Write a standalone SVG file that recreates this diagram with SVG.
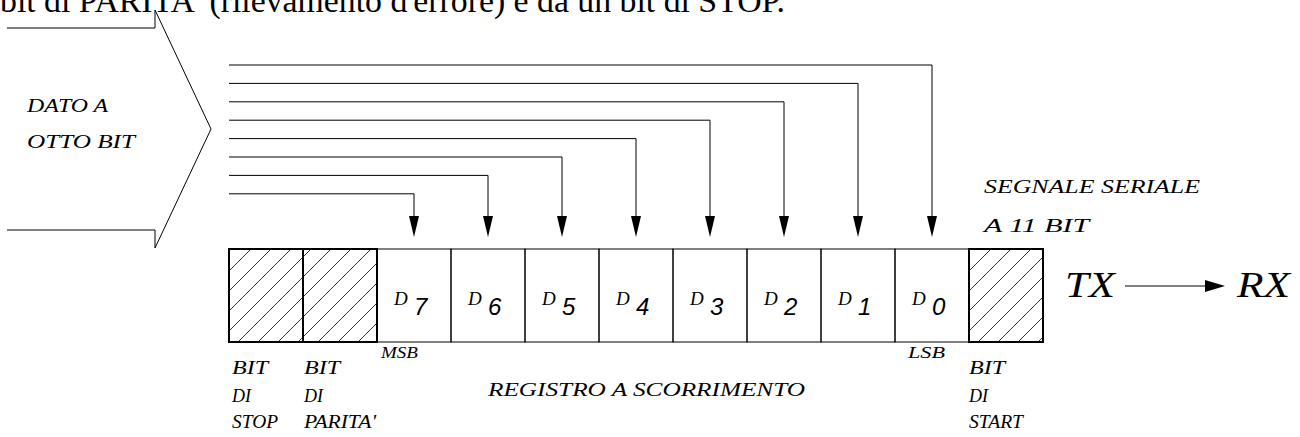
<svg xmlns="http://www.w3.org/2000/svg" width="1300" height="437" viewBox="0 0 1300 437">
<style>
.ln{fill:none;stroke:#000;stroke-width:1}
.cell{fill:none;stroke:#000;stroke-width:1}
.hcell{fill:url(#hatch);stroke:#000;stroke-width:2}
.it{font-family:"Liberation Serif",serif;font-style:italic;fill:#000}
.sm{font-size:19px}
.dl{font-size:19px}
.dig{font-family:"Liberation Sans",sans-serif;font-style:italic;font-size:24px;fill:#000}
.big{font-size:35px}
.top{font-family:"Liberation Serif",serif;font-size:33px;fill:#000}
.head{fill:#000;stroke:none}
</style>
<defs>
<pattern id="hatch" patternUnits="userSpaceOnUse" width="20" height="20">
<path d="M0,20 L20,0 M-5,5 L5,-5 M15,25 L25,15" stroke="#000" stroke-width="0.8" fill="none"/>
</pattern>
</defs>
<rect width="1300" height="437" fill="#fff"/>
<text class="top" x="0" y="12" textLength="785" lengthAdjust="spacingAndGlyphs">bit di PARITA' (rilevamento d'errore) e da un bit di STOP.</text>

<g id="input-arrow">
<polyline class="ln" points="7,28 155,28 155,10 211,129 155,248 155,230 7,230"/>
<text class="it sm" x="27" y="112" textLength="81" lengthAdjust="spacingAndGlyphs">DATO  A</text>
<text class="it sm" x="27" y="148" textLength="108" lengthAdjust="spacingAndGlyphs">OTTO  BIT</text>
</g>

<g id="register">
<rect id="stop-bit" class="hcell" x="229" y="249" width="74" height="93"/>
<rect id="parity-bit" class="hcell" x="303" y="249" width="74" height="93"/>
<g id="d7"><rect class="cell" x="377" y="249" width="74" height="93"/><text class="it dl" x="394" y="305">D</text><text class="dig" x="414" y="315">7</text></g>
<g id="d6"><rect class="cell" x="451" y="249" width="74" height="93"/><text class="it dl" x="468" y="305">D</text><text class="dig" x="488" y="315">6</text></g>
<g id="d5"><rect class="cell" x="525" y="249" width="74" height="93"/><text class="it dl" x="542" y="305">D</text><text class="dig" x="562" y="315">5</text></g>
<g id="d4"><rect class="cell" x="599" y="249" width="74" height="93"/><text class="it dl" x="616" y="305">D</text><text class="dig" x="636" y="315">4</text></g>
<g id="d3"><rect class="cell" x="673" y="249" width="74" height="93"/><text class="it dl" x="690" y="305">D</text><text class="dig" x="710" y="315">3</text></g>
<g id="d2"><rect class="cell" x="747" y="249" width="74" height="93"/><text class="it dl" x="764" y="305">D</text><text class="dig" x="784" y="315">2</text></g>
<g id="d1"><rect class="cell" x="821" y="249" width="74" height="93"/><text class="it dl" x="838" y="305">D</text><text class="dig" x="858" y="315">1</text></g>
<g id="d0"><rect class="cell" x="895" y="249" width="74" height="93"/><text class="it dl" x="912" y="305">D</text><text class="dig" x="932" y="315">0</text></g>
<rect id="start-bit" class="hcell" x="969" y="249" width="74" height="93"/>
</g>

<g id="labels">
<text class="it" font-size="16" x="381" y="358" textLength="37" lengthAdjust="spacingAndGlyphs">MSB</text>
<text class="it" font-size="16" x="908" y="358" textLength="37" lengthAdjust="spacingAndGlyphs">LSB</text>
<text class="it sm" x="232" y="374" textLength="36" lengthAdjust="spacingAndGlyphs">BIT</text>
<text class="it sm" x="232" y="402" textLength="19" lengthAdjust="spacingAndGlyphs">DI</text>
<text class="it sm" x="232" y="428" textLength="46" lengthAdjust="spacingAndGlyphs">STOP</text>
<text class="it sm" x="304" y="374" textLength="36" lengthAdjust="spacingAndGlyphs">BIT</text>
<text class="it sm" x="304" y="402" textLength="19" lengthAdjust="spacingAndGlyphs">DI</text>
<text class="it sm" x="304" y="428" textLength="72" lengthAdjust="spacingAndGlyphs">PARITA'</text>
<text class="it sm" x="488" y="396" textLength="317" lengthAdjust="spacingAndGlyphs">REGISTRO  A  SCORRIMENTO</text>
<text class="it sm" x="969" y="374" textLength="36" lengthAdjust="spacingAndGlyphs">BIT</text>
<text class="it sm" x="969" y="402" textLength="19" lengthAdjust="spacingAndGlyphs">DI</text>
<text class="it sm" x="969" y="428" textLength="54" lengthAdjust="spacingAndGlyphs">START</text>
<text class="it sm" x="984" y="193" textLength="216" lengthAdjust="spacingAndGlyphs">SEGNALE  SERIALE</text>
<text class="it sm" x="984" y="232" textLength="105" lengthAdjust="spacingAndGlyphs">A  11  BIT</text>
</g>

<g id="tx"><text class="it big" x="1065" y="297" textLength="50" lengthAdjust="spacingAndGlyphs">TX</text></g>
<g id="rx"><text class="it big" x="1237" y="297" textLength="53" lengthAdjust="spacingAndGlyphs">RX</text></g>

<g id="connectors">
<polyline class="ln" points="229,65 932,65 932,217"/>
<polyline class="ln" points="229,83.4 858,83.4 858,217"/>
<polyline class="ln" points="229,101.8 784,101.8 784,217"/>
<polyline class="ln" points="229,120.2 710,120.2 710,217"/>
<polyline class="ln" points="229,138.6 636,138.6 636,217"/>
<polyline class="ln" points="229,157 562,157 562,217"/>
<polyline class="ln" points="229,175.4 488,175.4 488,217"/>
<polyline class="ln" points="229,193.8 414,193.8 414,217"/>
<polygon class="head" points="409,216 419,216 414,237"/>
<polygon class="head" points="483,216 493,216 488,237"/>
<polygon class="head" points="557,216 567,216 562,237"/>
<polygon class="head" points="631,216 641,216 636,237"/>
<polygon class="head" points="705,216 715,216 710,237"/>
<polygon class="head" points="779,216 789,216 784,237"/>
<polygon class="head" points="853,216 863,216 858,237"/>
<polygon class="head" points="927,216 937,216 932,237"/>
<line class="ln" x1="1125" y1="286" x2="1207" y2="286"/>
<polygon class="head" points="1205,280 1225,286 1205,292"/>
</g>
</svg>
